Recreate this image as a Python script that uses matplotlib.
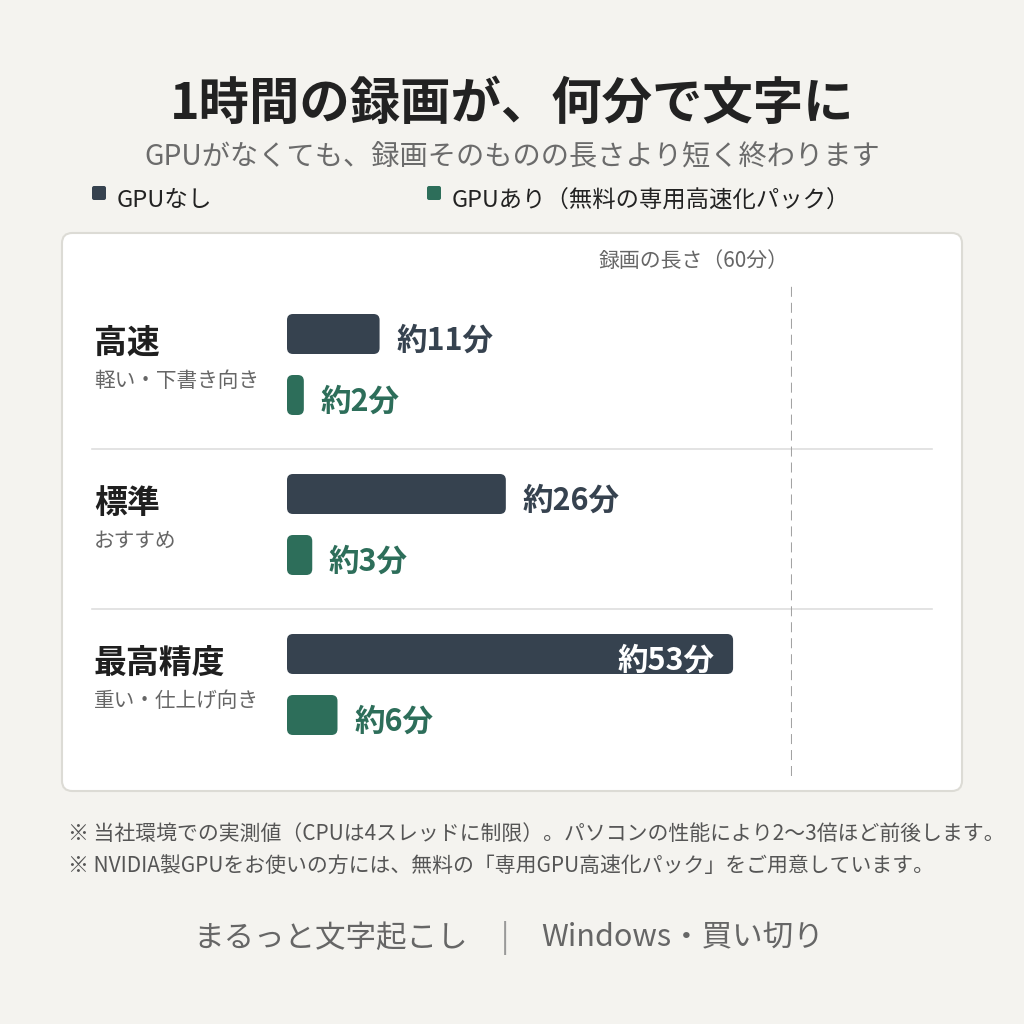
import matplotlib
matplotlib.use("Agg")
import matplotlib.pyplot as plt
from matplotlib.patches import FancyBboxPatch
from matplotlib.lines import Line2D

plt.rcParams['font.family'] = ['Noto Sans CJK JP', 'DejaVu Sans']
plt.rcParams['lines.scale_dashes'] = False

# ---- data ----
categories = ["高速", "標準", "最高精度"]
subtitles = ["軽い・下書き向き", "おすすめ", "重い・仕上げ向き"]
cpu_minutes = [11, 26, 53]
gpu_minutes = [2, 3, 6]
recording_length = 60
series_names = ["GPUなし", "GPUあり（無料の専用高速化パック）"]

BG = "#f4f3ef"
DARK = "#36424f"
GREEN = "#2d6e5a"

W = H = 1024
fig = plt.figure(figsize=(W / 100, H / 100), dpi=100, facecolor=BG)
DY = 3  # vertical text nudge (px)


def fx(x):
    return x / W


def fy(y):
    return 1 - y / H


# panel
panel = FancyBboxPatch((fx(62), fy(791)), fx(962) - fx(62), fy(233) - fy(791),
                       boxstyle="round,pad=0,rounding_size=0.01",
                       transform=fig.transFigure, facecolor="white",
                       edgecolor="#dcdbd5", linewidth=1.5, zorder=-2)
fig.patches.append(panel)

# title / subtitle
fig.text(0.5, fy(101 + DY), "1時間の録画が、何分で文字に", ha="center", va="center",
         fontsize=36.3, fontweight="bold", color="#222222")
fig.text(0.5, fy(155 + DY), "GPUがなくても、録画そのものの長さより短く終わります",
         ha="center", va="center", fontsize=20.3, color="#6b6b6b")

# legend
legend_fs = [17, 16.8]
for (lx, tx), name, col, fs in zip([(92, 117), (427, 452)], series_names, [DARK, GREEN], legend_fs):
    fig.patches.append(FancyBboxPatch((fx(lx), fy(200)), fx(14), fx(14),
                                      boxstyle="round,pad=0,rounding_size=0.002",
                                      transform=fig.transFigure, facecolor=col,
                                      edgecolor="none"))
    fig.text(fx(tx), fy(198 + DY), name, ha="left", va="center", fontsize=fs, color="#222222")

# separators
for yy in [449, 609]:
    fig.add_artist(Line2D([fx(92), fx(932)], [fy(yy), fy(yy)], color="#dedede",
                          linewidth=1.2, transform=fig.transFigure, zorder=-1))

# axes for the bars
ax = fig.add_axes([fx(287), fy(776), fx(792) - fx(287), fy(284) - fy(776)])
ax.set_zorder(2)
ax.set_xlim(0, recording_length)
ax.set_ylim(2.7625, -0.3125)
ax.axis("off")
ax.patch.set_visible(False)

px_x = recording_length / (792 - 287)   # minutes per pixel
px_y = 1 / 160                          # units per pixel
bar_h = 40 * px_y
green_off = 61 * px_y
rad = 6 * px_x
aspect = px_y / px_x

ax.axvline(recording_length, color="#a3a3a3", linewidth=1.5, linestyle=(0, (7.2, 4.3)))
fig.text(fx(789), fy(258 + DY), "録画の長さ（60分）", ha="right", va="center",
         fontsize=15, color="#666666")

for i, (cat, sub, c, g) in enumerate(zip(categories, subtitles, cpu_minutes, gpu_minutes)):
    for val, yc, col in [(c, i, DARK), (g, i + green_off, GREEN)]:
        p = FancyBboxPatch((0, yc - bar_h / 2), val, bar_h,
                           boxstyle=f"round,pad=0,rounding_size={rad}",
                           mutation_aspect=aspect, facecolor=col, edgecolor="none")
        ax.add_patch(p)
        label = f"約{val}分"
        if val > 45:
            ax.annotate(label, xy=(val, yc), xytext=(-13, -4.5), textcoords="offset points",
                        ha="right", va="center", fontsize=22, fontweight="bold",
                        color="white")
        else:
            ax.annotate(label, xy=(val, yc), xytext=(12, -4.5), textcoords="offset points",
                        ha="left", va="center", fontsize=22, fontweight="bold",
                        color=col)
    fig.text(fx(94), fy(340 + DY + 160 * i), cat, ha="left", va="center", fontsize=23.7,
             fontweight="bold", color="#1f1f1f")
    fig.text(fx(94), fy(378 + DY + 160 * i), sub, ha="left", va="center", fontsize=14.9,
             color="#666666")

# footnotes
fig.text(fx(68), fy(831 + DY), "※ 当社環境での実測値（CPUは4スレッドに制限）。パソコンの性能により2〜3倍ほど前後します。",
         ha="left", va="center", fontsize=15, color="#555555")
fig.text(fx(68), fy(864 + DY), "※ NVIDIA製GPUをお使いの方には、無料の「専用GPU高速化パック」をご用意しています。",
         ha="left", va="center", fontsize=15, color="#555555")

# footer
fig.text(fx(468), fy(935 + DY), "まるっと文字起こし", ha="right", va="center", fontsize=22, color="#666666")
fig.text(fx(505), fy(935 + DY), "|", ha="center", va="center", fontsize=22, color="#999999")
fig.text(fx(541), fy(935 + DY), "Windows・買い切り", ha="left", va="center", fontsize=22, color="#666666")

fig.savefig("out.png", dpi=100, facecolor=BG)
